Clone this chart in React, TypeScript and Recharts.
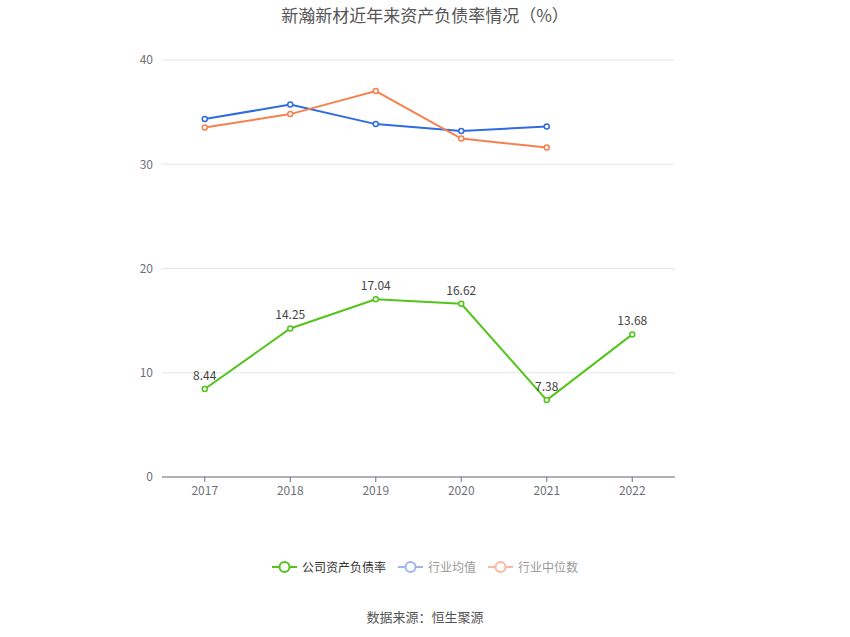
import { LineChart, Line, XAxis, YAxis, CartesianGrid, LabelList } from 'recharts';

const years = ['2017', '2018', '2019', '2020', '2021', '2022'];
const companyRatio = [8.44, 14.25, 17.04, 16.62, 7.38, 13.68];
const industryAvg = [34.33, 35.73, 33.85, 33.2, 33.62, null];
const industryMedian = [33.52, 34.81, 37.02, 32.46, 31.6, null];
const yTicks = [0, 10, 20, 30, 40];

const seriesInfo = [
  { key: 'company', name: '公司资产负债率', color: '#52c41a', legendColor: '#52c41a', textColor: '#333' },
  { key: 'avg', name: '行业均值', color: '#2f6ce0', legendColor: '#9bb7ef', textColor: '#999' },
  { key: 'median', name: '行业中位数', color: '#f7804d', legendColor: '#f9b8a0', textColor: '#999' },
];

const data = years.map((year, i) => ({
  year,
  company: companyRatio[i],
  avg: industryAvg[i],
  median: industryMedian[i],
}));

const font = '"Noto Sans CJK SC", "Noto Sans", sans-serif';

export default function App() {
  return (
    <div style={{ position: 'absolute', left: 0, top: 0, width: 850, height: 637, background: '#fff', fontFamily: font }}>
      <div style={{ position: 'absolute', top: 2, width: 850, textAlign: 'center', fontSize: 17, color: '#555' }}>
        新瀚新材近年来资产负债率情况（%）
      </div>

      <LineChart width={850} height={637} data={data} margin={{ top: 60, right: 175, bottom: 130, left: 0 }}>
        <CartesianGrid vertical={false} stroke="#e3e7f0" />
        <XAxis
          dataKey="year"
          scale="band"
          height={30}
          stroke="#6e7079"
          tickSize={5}
          tickMargin={4}
          tick={{ fill: '#6e7079', fontSize: 12, fontFamily: font }}
        />
        <YAxis
          width={162}
          domain={[0, 40]}
          ticks={yTicks}
          axisLine={false}
          tickLine={false}
          tickMargin={3}
          tick={{ fill: '#6e7079', fontSize: 12, fontFamily: font }}
        />
        {seriesInfo.slice(1).map((s) => (
          <Line
            key={s.key}
            dataKey={s.key}
            name={s.name}
            stroke={s.color}
            strokeWidth={2}
            dot={{ r: 2.5, strokeWidth: 1.5, fill: '#fff', stroke: s.color }}
            activeDot={false}
            isAnimationActive={false}
          />
        ))}
        <Line
          dataKey="company"
          name="公司资产负债率"
          stroke="#52c41a"
          strokeWidth={2}
          dot={{ r: 2.5, strokeWidth: 1.5, fill: '#fff', stroke: '#52c41a' }}
          activeDot={false}
          isAnimationActive={false}
        >
          <LabelList dataKey="company" position="top" offset={9} fill="#444" fontSize={12} fontFamily={font} />
        </Line>
      </LineChart>

      <div style={{ position: 'absolute', top: 558, width: 850, display: 'flex', justifyContent: 'center', gap: 12, fontSize: 12 }}>
        {seriesInfo.map((s) => (
          <div key={s.key} style={{ display: 'flex', alignItems: 'center', gap: 5 }}>
            <svg width={25} height={16}>
              <line x1={0} y1={8} x2={25} y2={8} stroke={s.legendColor} strokeWidth={2} />
              <circle cx={12.5} cy={8} r={5} fill="#fff" stroke={s.legendColor} strokeWidth={2} />
            </svg>
            <span style={{ color: s.textColor }}>{s.name}</span>
          </div>
        ))}
      </div>

      <div style={{ position: 'absolute', top: 607, width: 850, textAlign: 'center', fontSize: 13, color: '#555' }}>
        数据来源：恒生聚源
      </div>
    </div>
  );
}
